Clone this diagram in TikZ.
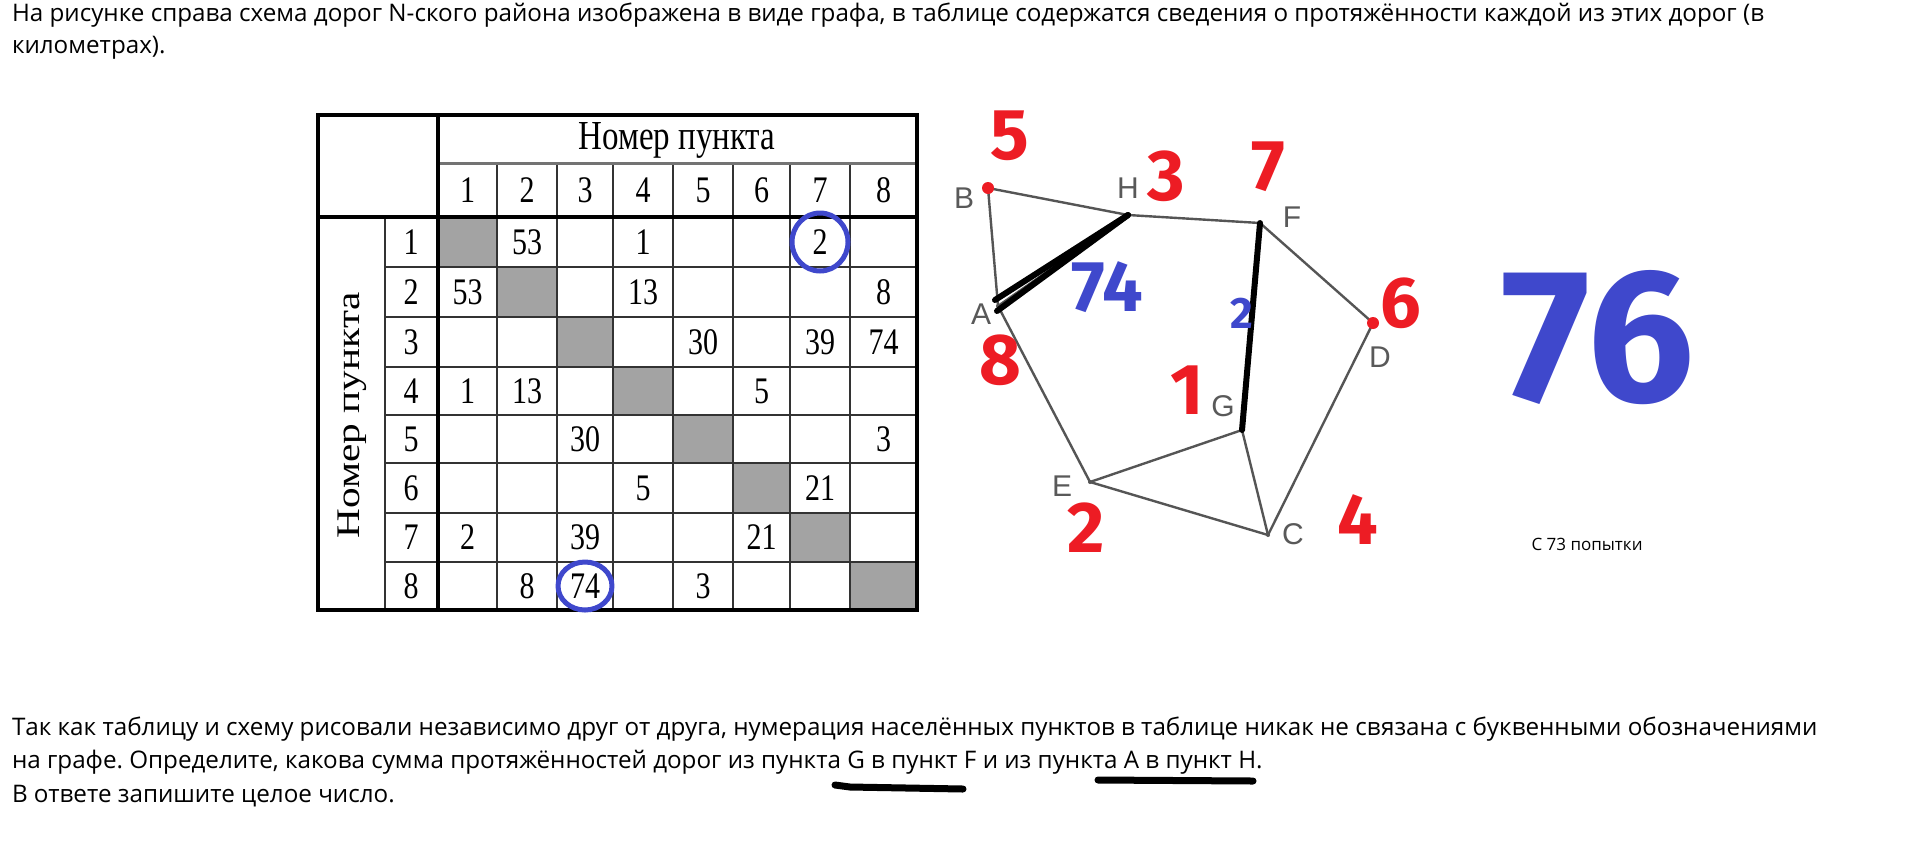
\documentclass[tikz,border=0pt]{standalone}
\usepackage{fontspec}
\usepackage{graphicx}
\setmainfont{Open Sans}
\newfontfamily\tablefont{Liberation Serif}
\newfontfamily\graphfont{Liberation Sans}
\newfontfamily\handfont{Fira Sans}
\definecolor{paintred}{HTML}{ED1C24}
\definecolor{paintblue}{HTML}{3F48CC}
\definecolor{roadgray}{HTML}{555555}
\definecolor{cellgray}{HTML}{A3A3A3}
% цифры таблицы растянуты по вертикали
\newcommand{\tnum}[1]{\scalebox{1}[1.25]{#1}}
\frenchspacing

\begin{document}
\begin{tikzpicture}[
    x=0.5pt, y=-0.5pt,   % 1 единица = 1 пиксель, ось y вниз
    every node/.style={inner sep=0pt, outer sep=0pt},
    line/.style={anchor=base west, font=\fontsize{12.1}{14}\selectfont},
    cell/.style={font=\tablefont\fontsize{15}{15}\selectfont},
    grid/.style={draw=black!80, line width=1.2pt},
    frame/.style={draw=black, line width=2pt},
    vertex/.style={circle, fill=roadgray, minimum size=2pt},
    road/.style={draw=roadgray, line width=1.2pt},
    vlabel/.style={font=\graphfont\fontsize{15}{15}\selectfont, text=black!65},
    redhand/.style={font=\handfont\bfseries\fontsize{36}{36}\selectfont, text=paintred},
    bluehand/.style={font=\handfont\bfseries\fontsize{36}{36}\selectfont, text=paintblue},
    pen/.style={line width=3pt, line cap=round, line join=round}
]
\fill[white] (0,0) rectangle (1914,863);
\useasboundingbox (0,0) rectangle (1914,863);

% Текст задания
\node[line] (t1) at (12,21) {На рисунке справа схема дорог N-ского района изображена в виде графа, в таблице содержатся сведения о протяжённости каждой из этих дорог (в};
\node[line] (t2) at (12,53) {километрах).};
\node[line] (b1) at (12,735) {Так как таблицу и схему рисовали независимо друг от друга, нумерация населённых пунктов в таблице никак не связана с буквенными обозначениями};
\node[line] (b2) at (12,768) {на графе. Определите, какова сумма протяжённостей дорог из пункта G в пункт F и из пункта A в пункт H.};
\node[line] (b3) at (12,802) {В ответе запишите целое число.};
\draw[pen, line width=3.5pt] (835,785) -- (850,787) -- (963,789);
\draw[pen, line width=3.5pt] (1098,780) -- (1253,781);

% Таблица
\foreach \xa/\ya/\xb/\yb in {438/217/497/267, 497/267/557/317, 557/317/613/367, 613/367/673/415,
    673/415/733/463, 733/463/790/513, 790/513/850/562, 850/562/917/610}
  \fill[cellgray] (\xa,\ya) rectangle (\xb,\yb);
\foreach \x in {497,557,613,673,733,790,850}
  \draw[grid] (\x,163) -- (\x,610);
\foreach \y in {267,317,367,415,463,513,562}
  \draw[grid] (385,\y) -- (917,\y);
\draw[grid] (385,217) -- (385,610);
\draw[draw=black!55, line width=1.5pt] (438,163) -- (917,163);
\draw[frame] (318,217) -- (917,217);
\draw[frame] (438,115) -- (438,610);
\draw[frame] (318,115) rectangle (917,610);

\node[font=\tablefont\fontsize{16.5}{16.5}\selectfont] (head) at (677,140) {\tnum{Номер пункта}};
\node[font=\tablefont\fontsize{16.5}{16.5}\selectfont, rotate=90] (side) at (352,415) {\scalebox{1.25}[1]{Номер пункта}};
\foreach \i/\x in {1/467.5,2/527,3/585,4/643,5/703,6/761.5,7/820,8/883.5}
  \node[cell] (col\i) at (\x,190) {\tnum{\i}};
\foreach \i/\y in {1/242,2/292,3/342,4/391,5/439,6/488,7/537.5,8/586}
  \node[cell] (row\i) at (411,\y) {\tnum{\i}};
\foreach \r/\c/\v in {1/2/53, 1/4/1, 1/7/2, 2/1/53, 2/4/13, 2/8/8, 3/5/30, 3/7/39, 3/8/74,
    4/1/1, 4/2/13, 4/6/5, 5/3/30, 5/8/3, 6/4/5, 6/7/21, 7/1/2, 7/3/39, 7/6/21,
    8/2/8, 8/3/74, 8/5/3}
  \node[cell] (c\r\c) at (col\c |- row\r) {\tnum{\v}};
\draw[paintblue, pen, line width=2.5pt] (c17) ellipse [x radius=28, y radius=29];
\draw[paintblue, pen, line width=2.5pt] (c83) ellipse [x radius=27, y radius=24];

% Граф дорог
\node[vertex] (vB) at (988,188) {};
\node[vertex] (vH) at (1128,215) {};
\node[vertex] (vF) at (1260,223) {};
\node[vertex] (vD) at (1373,323) {};
\node[vertex] (vC) at (1268,535) {};
\node[vertex] (vG) at (1242,430) {};
\node[vertex] (vE) at (1090,482) {};
\node[vertex] (vA) at (998,306) {};
\foreach \a/\b in {B/H, H/F, B/A, A/E, A/H, E/G, E/C, G/C, G/F, F/D, D/C}
  \draw[road] (v\a.center) -- (v\b.center);

\node[vlabel] (lB) at (964,198) {B};
\node[vlabel] (lH) at (1128,188) {H};
\node[vlabel] (lF) at (1292,217) {F};
\node[vlabel] (lD) at (1380,357) {D};
\node[vlabel] (lC) at (1293,534) {C};
\node[vlabel] (lG) at (1223,406) {G};
\node[vlabel] (lE) at (1062,486) {E};
\node[vlabel] (lA) at (981,314) {A};

% пометки от руки
\draw[pen] ([shift={(-3,-6)}]vA.center) -- (vH.center);
\draw[pen] ([shift={(-1,5)}]vA.center) -- ([shift={(-45,33)}]vH.center) -- (vH.center);
\draw[pen] (vF.center) -- (vG.center);
\fill[paintred] (vB) circle [radius=6];
\fill[paintred] (vD) circle [radius=6];

\node[redhand] (n5) at (1010,136) {5};
\node[redhand] (n3) at (1166,176) {3};
\node[redhand] (n7) at (1268,167) {7};
\node[redhand] (n6) at (1401,303) {6};
\node[redhand] (n4) at (1358,520) {4};
\node[redhand] (n1) at (1187,390) {1};
\node[redhand] (n2) at (1086,528) {2};
\node[redhand] (n8) at (1000,360) {8};
\node[bluehand] (w74) at (1107,287) {74};
\node[bluehand, font=\handfont\bfseries\fontsize{22}{22}\selectfont] (w2) at (1242,313) {2};

\node[bluehand, font=\handfont\bfseries\fontsize{95}{95}\selectfont] (answer) at (1598,338) {76};
\node[font=\fontsize{8.5}{8.5}\selectfont] (tries) at (1587,544) {С 73 попытки};
\end{tikzpicture}
\end{document}
